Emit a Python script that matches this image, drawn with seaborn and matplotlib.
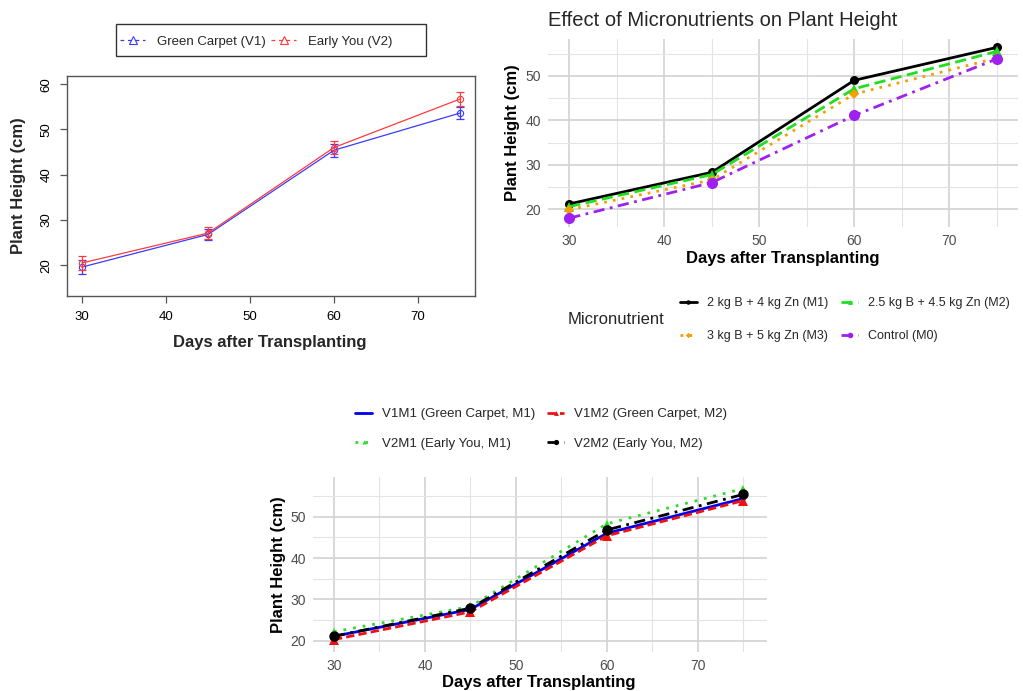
import matplotlib
matplotlib.use("Agg")
import matplotlib.pyplot as plt
from matplotlib.lines import Line2D
from matplotlib.patches import Rectangle
from matplotlib.ticker import MultipleLocator
import pandas as pd
import seaborn as sns

# ---------------- data ----------------
days = [30, 45, 60, 75]

# Panel A: variety means with standard errors
variety_names = ["Green Carpet (V1)", "Early You (V2)"]
v1_height = [19.6, 26.8, 45.4, 53.6]
v2_height = [20.5, 27.1, 46.0, 56.7]
v1_se = [1.5, 1.2, 1.4, 1.4]
v2_se = [1.5, 1.3, 1.5, 1.5]

# Panel B: micronutrient treatments
micro_names = ["2 kg B + 4 kg Zn (M1)", "2.5 kg B + 4.5 kg Zn (M2)",
               "3 kg B + 5 kg Zn (M3)", "Control (M0)"]
m1_height = [21.2, 28.3, 49.0, 56.4]
m2_height = [20.6, 27.8, 47.1, 55.5]
m3_height = [19.9, 26.6, 45.9, 54.0]
m0_height = [18.0, 26.0, 41.1, 53.8]

# Panel C: variety x micronutrient combinations
combo_names = ["V1M1 (Green Carpet, M1)", "V1M2 (Green Carpet, M2)",
               "V2M1 (Early You, M1)", "V2M2 (Early You, M2)"]
v1m1_height = [21.1, 27.6, 46.0, 54.4]
v1m2_height = [20.3, 27.0, 45.4, 53.9]
v2m1_height = [22.2, 28.3, 48.3, 56.8]
v2m2_height = [21.1, 27.9, 46.8, 55.4]

# ---------------- styling ----------------
sns.set_theme(style="white")
plt.rcParams["font.family"] = ["Liberation Sans", "DejaVu Sans"]

W, H = 1023, 691
fig = plt.figure(figsize=(W / 100, H / 100), dpi=100)
fig.patch.set_facecolor("white")


def rect(left, top, right, bottom):
    return [left / W, 1 - bottom / H, (right - left) / W, (bottom - top) / H]


def fx(px):
    return px / W


def fy(py):
    return 1 - py / H


def place_labels(ax, box, xl, yl):
    left, top, right, bottom = box
    w, h = right - left, bottom - top
    ax.xaxis.set_label_coords((xl[0] - left) / w, (bottom - xl[1]) / h)
    ax.yaxis.set_label_coords((yl[0] - left) / w, (bottom - yl[1]) / h)
    ax.xaxis.label.set_va("center")
    ax.yaxis.label.set_va("center")
    ax.xaxis.label.set_ha("center")
    ax.yaxis.label.set_ha("center")


def gg_minimal(ax):
    ax.set_facecolor("white")
    for s in ax.spines.values():
        s.set_visible(False)
    for axis in (ax.xaxis, ax.yaxis):
        axis.set_major_locator(MultipleLocator(10))
        axis.set_minor_locator(MultipleLocator(5))
    ax.grid(True, which="major", color="#D2D2D2", lw=1.2)
    ax.grid(True, which="minor", color="#E3E3E3", lw=0.8)
    ax.set_axisbelow(True)
    ax.tick_params(which="both", length=0, labelsize=10,
                   labelcolor="#4D4D4D")
    ax.tick_params(axis="x", pad=5)
    ax.tick_params(axis="y", pad=5)


# ================= Panel A (base-R style) =================
boxA = (67, 76, 475, 296)
ax1 = fig.add_axes(rect(*boxA))
colA = ["#3A3AFF", "#FF3A3A"]
for vals, se, c in zip([v1_height, v2_height], [v1_se, v2_se], colA):
    df = pd.DataFrame({"Days": days, "Height": vals})
    sns.lineplot(data=df, x="Days", y="Height", ax=ax1, color=c, lw=0.9,
                 marker="o", markersize=4.5, mfc="none", mec=c, mew=0.8,
                 errorbar=None, legend=False)
    ax1.errorbar(days, vals, yerr=se, fmt="none", ecolor=c, elinewidth=0.9,
                 capsize=2.6, capthick=0.9)
ax1.set_xlim(28.2, 76.8)
ax1.set_ylim(13.2, 61.8)
ax1.set_xticks([30, 40, 50, 60, 70])
ax1.set_yticks([20, 30, 40, 50, 60])
for s in ax1.spines.values():
    s.set_visible(True)
    s.set_color("#555555")
    s.set_linewidth(1.0)
ax1.tick_params(axis="both", which="major", direction="out", length=5,
                width=0.9, color="#555555", labelsize=9.5, labelcolor="black",
                bottom=True, left=True, pad=5.5)
ax1.tick_params(axis="y", labelrotation=90)
for lab in ax1.get_yticklabels():
    lab.set_va("center")
ax1.grid(False)
ax1.set_xlabel("Days after Transplanting", fontsize=12, fontweight="bold")
ax1.set_ylabel("Plant Height (cm)", fontsize=12, fontweight="bold")
place_labels(ax1, boxA, (270, 343), (19, 186))

# legend box above the plot (R-style, wide frame)
ax1.add_patch(Rectangle((fx(116), fy(56)), (426 - 116) / W, (56 - 24) / H,
                        transform=fig.transFigure, fc="white", ec="#333333",
                        lw=1.0, zorder=4, clip_on=False))
handlesA = [Line2D([], [], color=c, ls=(0, (3, 3)), lw=0.9, marker="^",
                   mfc="none", mec=c, ms=6, mew=0.8) for c in colA]
ax1.legend(handles=handlesA, labels=variety_names, loc="center left",
           bbox_to_anchor=(fx(120), fy(42)), bbox_transform=fig.transFigure,
           ncol=2, frameon=False, fontsize=9.5, handlelength=1.9,
           handletextpad=0.9, columnspacing=0.4, borderpad=0,
           borderaxespad=0)

# ================= Panel B (ggplot minimal) =================
boxB = (548, 39, 1018, 227)
ax2 = fig.add_axes(rect(*boxB))
gg_minimal(ax2)
stylesB = [
    ("black", "-", "o", 6.5),
    ("#1EE01E", (0, (4, 2)), "^", 7),
    ("#F5A000", (0, (1, 2.2)), "D", 5.5),
    ("#A020F0", (0, (4, 2, 1, 2)), "o", 8),
]
linesB = []
for vals, (c, ls, mk, ms) in zip([m1_height, m2_height, m3_height, m0_height],
                                 stylesB):
    df = pd.DataFrame({"Days": days, "Height": vals})
    sns.lineplot(data=df, x="Days", y="Height", ax=ax2, color=c, lw=2.0,
                 linestyle=ls, marker=mk, markersize=ms, mec=c, mew=0,
                 errorbar=None, legend=False)
    linesB.append(ax2.lines[-1])
ax2.set_xlim(27.75, 77.25)
ax2.set_ylim(16.0, 58.3)
ax2.set_xlabel("Days after Transplanting", fontsize=12, fontweight="bold",
               color="black")
ax2.set_ylabel("Plant Height (cm)", fontsize=12, fontweight="bold",
               color="black")
place_labels(ax2, boxB, (783, 258), (512, 133))
ax2.text(fx(548), fy(26), "Effect of Micronutrients on Plant Height",
         transform=fig.transFigure, ha="left", va="baseline", fontsize=14.5,
         clip_on=False)
ax2.text(fx(568), fy(320), "Micronutrient", transform=fig.transFigure,
         ha="left", va="center", fontsize=12, clip_on=False)
orderB = [0, 2, 1, 3]
ax2.legend(handles=[linesB[i] for i in orderB],
           labels=[micro_names[i] for i in orderB], loc="upper left",
           bbox_to_anchor=(fx(680), fy(297)), bbox_transform=fig.transFigure,
           ncol=2, frameon=False, fontsize=9, handlelength=1.35,
           handletextpad=0.8, columnspacing=1.05, labelspacing=1.68,
           borderpad=0, borderaxespad=0, markerscale=0.5)

# ================= Panel C (ggplot minimal) =================
boxC = (313, 477, 767, 652)
ax3 = fig.add_axes(rect(*boxC))
gg_minimal(ax3)
stylesC = [
    ("#0000F0", "-", "o", 3),
    ("#F01010", (0, (3, 1.5)), "^", 7),
    ("#2EDC2E", (0, (1, 2.5)), "^", 6),
    ("black", (0, (4, 2, 1, 2)), "o", 7.5),
]
linesC = []
for vals, (c, ls, mk, ms) in zip([v1m1_height, v1m2_height, v2m1_height,
                                  v2m2_height], stylesC):
    df = pd.DataFrame({"Days": days, "Height": vals})
    sns.lineplot(data=df, x="Days", y="Height", ax=ax3, color=c, lw=2.0,
                 linestyle=ls, marker=mk, markersize=ms, mec=c, mew=0,
                 errorbar=None, legend=False)
    linesC.append(ax3.lines[-1])
ax3.set_xlim(27.7, 77.6)
ax3.set_ylim(17.3, 59.6)
ax3.set_xlabel("Days after Transplanting", fontsize=12, fontweight="bold",
               color="black")
ax3.set_ylabel("Plant Height (cm)", fontsize=12, fontweight="bold",
               color="black")
place_labels(ax3, boxC, (539, 683), (278, 565))
orderC = [0, 2, 1, 3]
ax3.legend(handles=[linesC[i] for i in orderC],
           labels=[combo_names[i] for i in orderC], loc="upper left",
           bbox_to_anchor=(fx(355), fy(408)), bbox_transform=fig.transFigure,
           ncol=2, frameon=False, fontsize=9.5, handlelength=1.3,
           handletextpad=0.75, columnspacing=0.9, labelspacing=1.3,
           borderpad=0, borderaxespad=0, markerscale=0.5)

fig.savefig("out.png", dpi=100, facecolor="white")
